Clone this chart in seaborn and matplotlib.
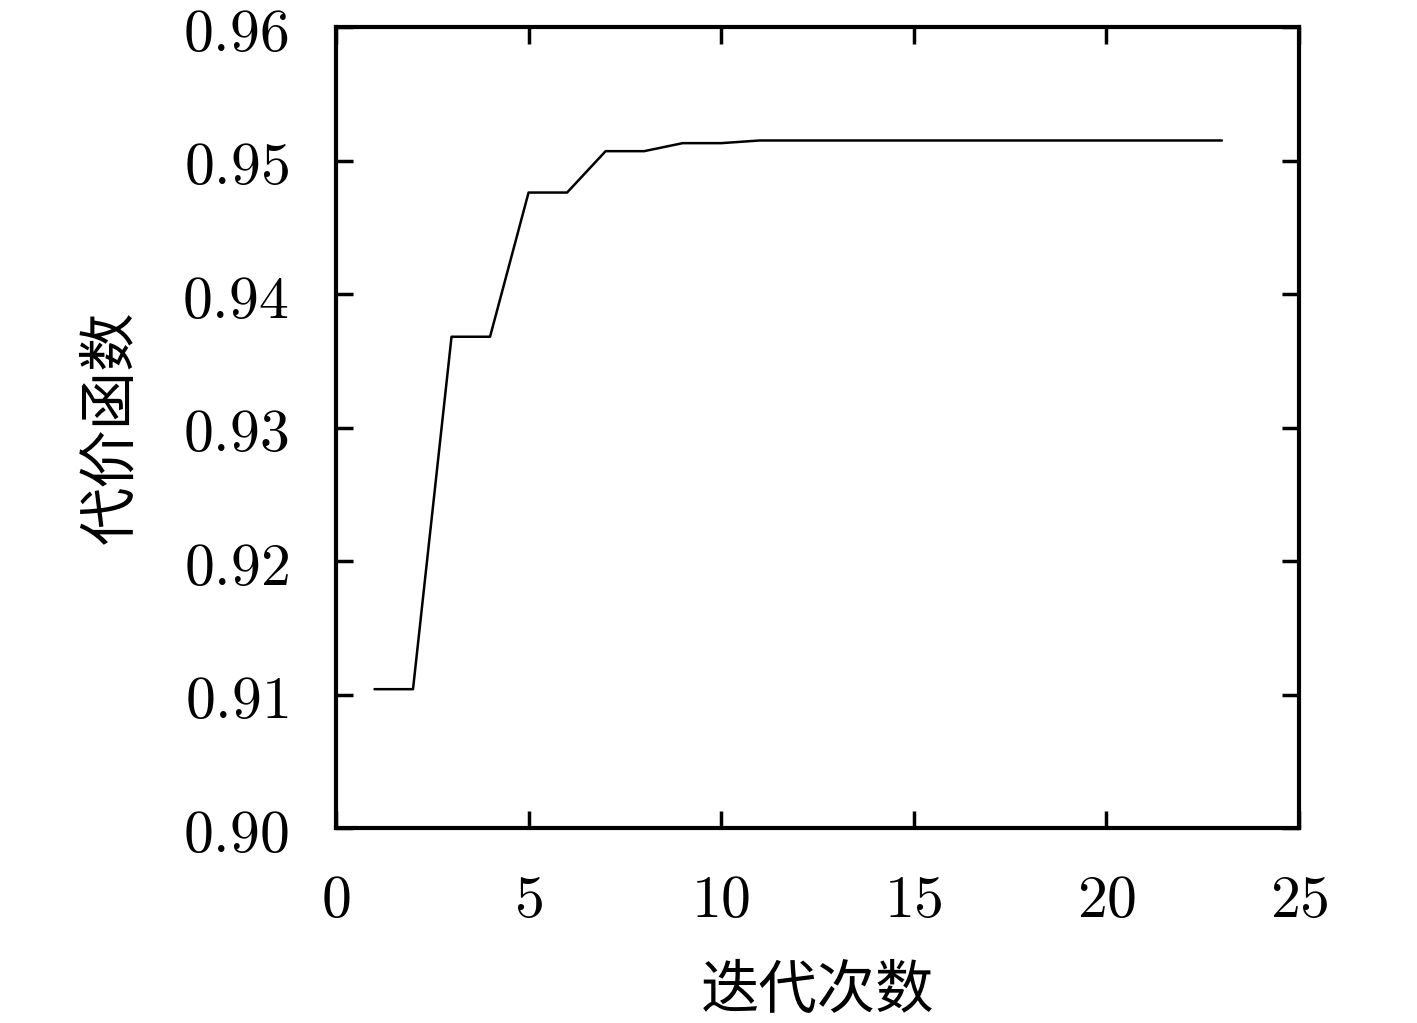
import matplotlib
matplotlib.use("Agg")
import matplotlib.pyplot as plt
import seaborn as sns
import pandas as pd

# 迭代次数 vs 代价函数
iterations = [1, 2, 3, 4, 5, 6, 7, 8, 9, 10, 11, 12, 13, 14, 15, 16, 17, 18, 19, 20, 21, 22, 23]
cost = [0.9104, 0.9104, 0.9368, 0.9368, 0.9476, 0.9476, 0.9507, 0.9507, 0.9513, 0.9513,
        0.9515, 0.9515, 0.9515, 0.9515, 0.9515, 0.9515, 0.9515, 0.9515, 0.9515, 0.9515,
        0.9515, 0.9515, 0.9515]
xticks = [0, 5, 10, 15, 20, 25]
yticks = [0.90, 0.91, 0.92, 0.93, 0.94, 0.95, 0.96]

sns.set_style("white")
plt.rcParams['font.family'] = ['Noto Sans CJK SC', 'DejaVu Sans']
plt.rcParams['mathtext.fontset'] = 'cm'
plt.rcParams['text.color'] = 'black'
plt.rcParams['axes.labelcolor'] = 'black'
plt.rcParams['xtick.color'] = 'black'
plt.rcParams['ytick.color'] = 'black'

df = pd.DataFrame({"iter": iterations, "cost": cost})

fig = plt.figure(figsize=(14.17, 10.23), dpi=100)
ax = fig.add_axes([0.2371, 0.1906, 0.9167 - 0.2371, 0.9736 - 0.1906])
sns.lineplot(data=df, x="iter", y="cost", color="black", linewidth=1.8, ax=ax)

ax.set_xlim(0, 25)
ax.set_ylim(0.90, 0.96)
ax.set_xticks(xticks)
ax.set_yticks(yticks)
ax.set_xticklabels([f"${t}$" for t in xticks])
ax.set_yticklabels([f"${t:.2f}$" for t in yticks])
ax.tick_params(direction="in", length=12, width=2.5, labelsize=43, colors="black",
               top=True, right=True, bottom=True, left=True)
ax.tick_params(axis="y", pad=34)
ax.tick_params(axis="x", pad=30)
for s in ax.spines.values():
    s.set_linewidth(3)
    s.set_color("black")

ax.set_xlabel("迭代次数", fontsize=42, labelpad=22, color="black")
ax.set_ylabel("代价函数", fontsize=42, labelpad=30, color="black")

fig.savefig("out.png", dpi=100)
